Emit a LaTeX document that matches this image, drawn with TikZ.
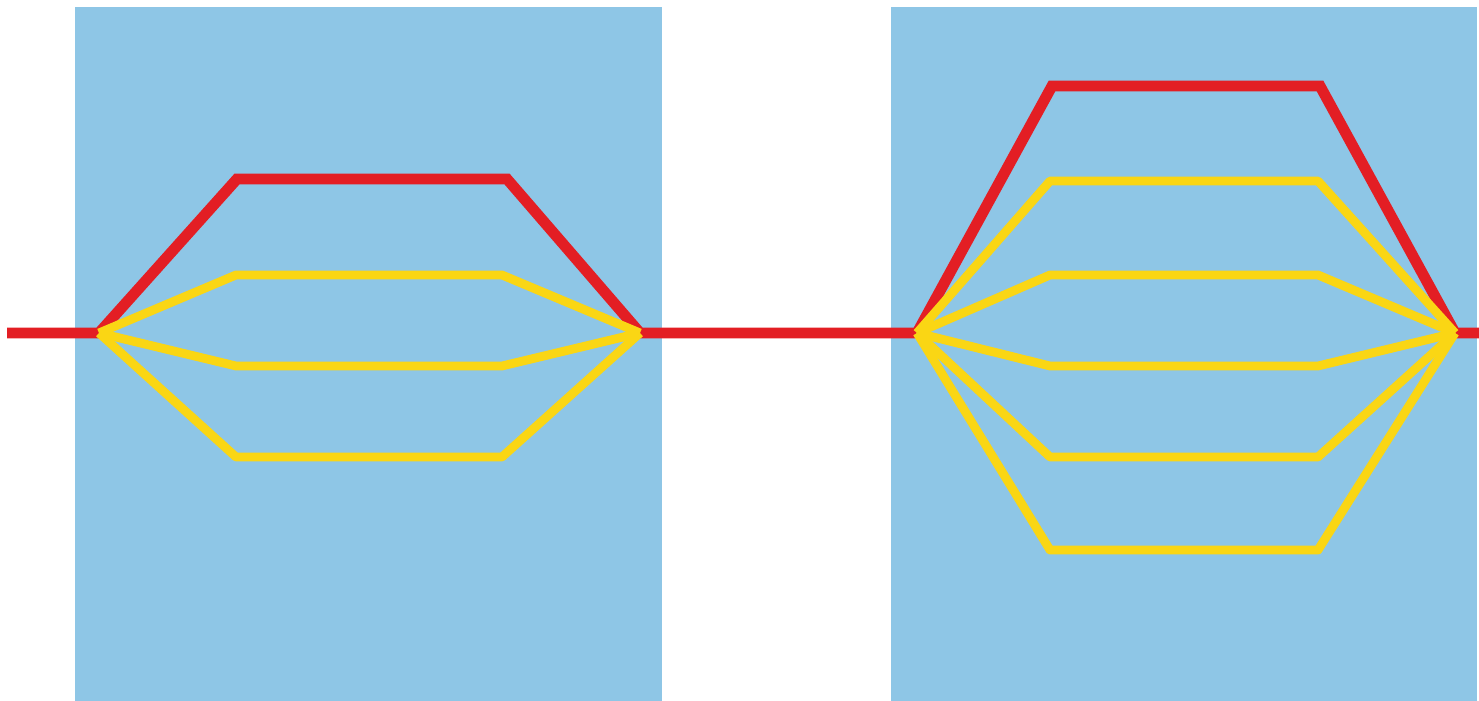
\documentclass[tikz,border=0pt]{standalone}
\usepackage{tikz}
\usetikzlibrary{calc}
\definecolor{skyblue}{RGB}{142,198,230}
\definecolor{signalred}{RGB}{227,30,36}
\definecolor{pathyellow}{RGB}{250,214,20}
\tikzset{
  zone/.style={fill=skyblue,draw=none},
  mainpath/.style={draw=signalred,line width=3.1pt,line join=miter},
  altpath/.style={draw=pathyellow,line width=2.5pt,line join=round}
}
\begin{document}
\begin{tikzpicture}[x=0.01cm,y=-0.01cm]
\useasboundingbox (0,0) rectangle (1479,701);
% the two shaded zones
\fill[zone] (75,7) rectangle (662,701);
\fill[zone] (891,7) rectangle (1477,701);
% split and merge points
\coordinate (start) at (7,333);
\coordinate (splitA) at (99,333);
\coordinate (mergeA) at (640,333);
\coordinate (splitB) at (917,333);
\coordinate (mergeB) at (1455,333);
\coordinate (finish) at (1479,333);
% red route
\draw[mainpath] (start) -- (splitA) -- (237,179) -- (507,179) -- (mergeA)
  -- (splitB) -- (1052,86) -- (1320,86) -- (mergeB) -- (finish);
% yellow routes, first zone
\foreach \lv in {275,366,457}
  \draw[altpath] (splitA) -- (236,\lv) -- (502,\lv) -- (mergeA);
% yellow routes, second zone
\foreach \lv in {181,275,366,457,550}
  \draw[altpath] (splitB) -- (1050,\lv) -- (1318,\lv) -- (mergeB);
\end{tikzpicture}
\end{document}
